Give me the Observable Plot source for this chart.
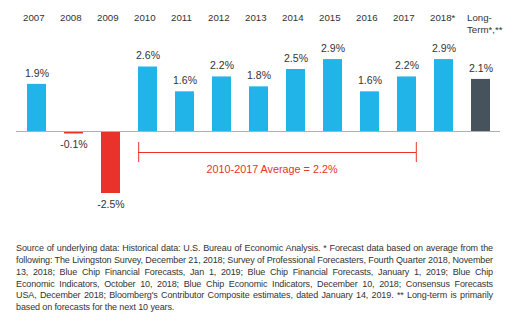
<!DOCTYPE html>
<html><head><meta charset="utf-8">
<script src="https://cdn.jsdelivr.net/npm/d3@7"></script>
<script src="https://cdn.jsdelivr.net/npm/@observablehq/plot@0.6"></script>
<style>
body{margin:0;background:#fff;font-family:"Liberation Sans",Arial,sans-serif;}
#chart{width:525px;height:333px;position:relative;overflow:hidden;}
#chart svg{position:absolute;left:0;top:0;}
#note{position:absolute;left:16px;top:243px;width:477px;font-size:9px;letter-spacing:-0.12px;line-height:11.85px;color:#333;}
#note div{text-align:justify;text-align-last:justify;white-space:nowrap;}
#note div:last-child{text-align-last:left;}
</style></head><body><div id="chart"><div id="note"></div></div>
<script>
const categories = ["2007","2008","2009","2010","2011","2012","2013","2014","2015","2016","2017","2018*","Long-Term*,**"];
const categoryLabels = ["2007","2008","2009","2010","2011","2012","2013","2014","2015","2016","2017","2018*","Long-\nTerm*,**"];
const growth = [1.9,-0.1,-2.5,2.6,1.6,2.2,1.8,2.5,2.9,1.6,2.2,2.9,2.1];
const valueLabels = ["1.9%","-0.1%","-2.5%","2.6%","1.6%","2.2%","1.8%","2.5%","2.9%","1.6%","2.2%","2.9%","2.1%"];
const kinds = ["actual","actual","actual","actual","actual","actual","actual","actual","actual","actual","actual","forecast","longterm"];
const averageSpan = [{from:"2010", to:"2017", labelAt:"2013", y:0, label:"2010-2017 Average = 2.2%"}];
const footnoteLines = [
  "Source of underlying data: Historical data: U.S. Bureau of Economic Analysis. * Forecast data based on average from the",
  "following: The Livingston Survey, December 21, 2018; Survey of Professional Forecasters, Fourth Quarter 2018, November",
  "13, 2018; Blue Chip Financial Forecasts, Jan 1, 2019; Blue Chip Financial Forecasts, January 1, 2019; Blue Chip",
  "Economic Indicators, October 10, 2018; Blue Chip Economic Indicators, December 10, 2018; Consensus Forecasts",
  "USA, December 2018; Bloomberg's Contributor Composite estimates, dated January 14, 2019. ** Long-term is primarily",
  "based on forecasts for the next 10 years."
];

const BLUE = "#21b4e8", RED = "#e8322a", DARK = "#46535d", TEXT = "#333";
const data = categories.map((c, i) => ({cat: c, value: growth[i], label: valueLabels[i], kind: kinds[i], axisLabel: categoryLabels[i]}));
const fillOf = d => d.kind === "longterm" ? DARK : (d.value < 0 ? RED : BLUE);

const zeroY = 131, pxPerUnit = 24.8;
const px = p => p / pxPerUnit;
const plot = Plot.plot({
  width: 525, height: 232,
  marginLeft: 16, marginRight: 25, marginTop: 12, marginBottom: 0,
  x: {domain: categories, paddingInner: 0.5, paddingOuter: 0.25, axis: null},
  y: {domain: [-3, 3], range: [zeroY + 3 * pxPerUnit, zeroY - 3 * pxPerUnit], axis: null},
  color: {type: "identity"},
  style: {fontFamily: '"Liberation Sans", Arial, sans-serif', color: TEXT, background: "transparent"},
  marks: [
    Plot.barY(data, {x: "cat", y: "value", fill: fillOf}),
    Plot.ruleY([0], {stroke: "#b0b0b0", strokeWidth: 1}),
    Plot.text(data.filter(d => d.value >= 0), {x: "cat", y: "value", text: "label", dy: -11, fontSize: 10.5, fill: TEXT}),
    Plot.text(data.filter(d => d.value < 0), {x: "cat", y: "value", text: "label", dy: 11, fontSize: 10.5, fill: TEXT}),
    Plot.text(data, {x: "cat", text: "axisLabel", frameAnchor: "top", lineAnchor: "top", textAnchor: "start", dx: -14, fontSize: 9.7, lineHeight: 1.24, fill: TEXT}),
    Plot.ruleY(averageSpan, {x1: "from", x2: "to", y: "y", dy: 21, stroke: RED, strokeWidth: 1}),
    Plot.ruleX(averageSpan, {x: "from", y1: d => d.y - px(11), y2: d => d.y - px(31), dx: -9.3, stroke: RED, strokeWidth: 1}),
    Plot.ruleX(averageSpan, {x: "to", y1: d => d.y - px(11), y2: d => d.y - px(31), dx: 9.3, stroke: RED, strokeWidth: 1}),
    Plot.text(averageSpan, {x: "labelAt", y: "y", text: "label", dx: 13, dy: 38, fontSize: 10.8, fill: RED})
  ]
});
document.getElementById("chart").prepend(plot);
const note = document.getElementById("note");
footnoteLines.forEach(t => { const d = document.createElement("div"); d.textContent = t; note.appendChild(d); });
</script>
</body></html>
